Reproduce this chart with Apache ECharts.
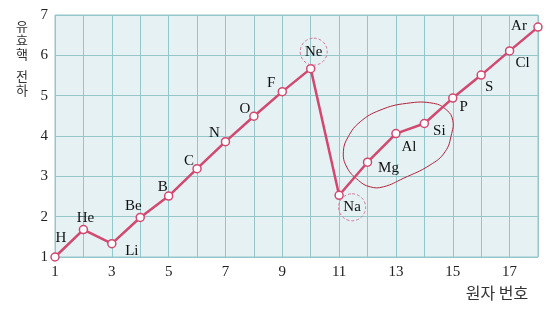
<!DOCTYPE html>
<html><head><meta charset="utf-8">
<script src="https://cdn.jsdelivr.net/npm/echarts@6/dist/echarts.min.js"></script>
<style>html,body{margin:0;padding:0;background:#fff}#c{width:550px;height:309px}</style>
</head><body><div id="c"></div>
<script>
const elements = ['H','He','Li','Be','B','C','N','O','F','Ne','Na','Mg','Al','Si','P','S','Cl','Ar'];
const atomicNumbers = [1,2,3,4,5,6,7,8,9,10,11,12,13,14,15,16,17,18];
const effCharge = [1.0,1.68,1.33,1.98,2.51,3.19,3.86,4.49,5.10,5.67,2.53,3.35,4.06,4.31,4.94,5.51,6.11,6.70];
const yTicks = [1,2,3,4,5,6,7];
const xTickLabels = ['1','3','5','7','9','11','13','15','17'];
const circled = ['Ne','Na'];
const loopX = [11.15,11.32,11.74,12.44,13.38,14.32,14.79,15.00,14.96,14.73,14.20,13.26,12.56,12.09,11.68,11.27];
const loopY = [3.61,3.98,4.35,4.64,4.81,4.81,4.64,4.39,4.06,3.61,3.28,2.95,2.74,2.74,2.90,3.23];
const yTitle = '유효핵 전하';
const xTitle = '원자 번호';

const labelOffsets = {
  H:[6,-19], He:[2,-12], Li:[20,7], Be:[-7,-11], B:[-6,-9], C:[-8,-8], N:[-11,-9],
  O:[-9,-7], F:[-11,-9], Ne:[3,-17], Na:[13,12], Mg:[21,6], Al:[13,13], Si:[15,8],
  P:[11,9], S:[8,12], Cl:[13,12], Ar:[-19,-1]
};

const serif = '"Liberation Serif","DejaVu Serif",serif';
const data = atomicNumbers.map((n,i)=>{
  const el = elements[i];
  const lab = {show:true, position:'inside', offset:labelOffsets[el], formatter:el,
    fontFamily:serif, fontSize:15, color:'#111', align:'center', verticalAlign:'middle'};
  if (circled.includes(el)) {
    Object.assign(lab, {width:27, height:27, lineHeight:27, borderRadius:14,
      borderWidth:1, borderType:[3,2], borderColor:'#d4789a'});
  }
  return {value:[n, effCharge[i]], label:lab};
});
const loopPts = loopX.map((x,i)=>[x, loopY[i]]);
const yTitleRich = yTitle.split('').map(ch => ch === ' ' ? '{s| }' : '{a|' + ch + '}').join('\n');

const chart = echarts.init(document.getElementById('c'));
chart.setOption({
  animation:false,
  grid:{left:55, right:12, top:15, bottom:52, show:true, backgroundColor:'#e5f1f3', borderColor:'#95c6ca', borderWidth:1},
  xAxis:{type:'value', min:1, max:18, interval:1,
    axisLine:{show:false}, axisTick:{show:false},
    splitLine:{show:true, lineStyle:{color:'#95c6ca', width:1}},
    axisLabel:{margin:8, fontFamily:serif, fontSize:15, color:'#222',
      formatter:v=> xTickLabels.includes(String(v)) ? String(v) : ''}},
  yAxis:{type:'value', min:1, max:7, interval:1,
    axisLine:{show:false}, axisTick:{show:false},
    splitLine:{show:true, lineStyle:{color:'#95c6ca', width:1}},
    axisLabel:{margin:7, fontFamily:serif, fontSize:15, color:'#222',
      formatter:v=> yTicks.includes(v) ? String(v) : ''}},
  graphic:[
    {type:'text', x:22, y:19,
      style:{text:yTitleRich, fill:'#333', align:'center', verticalAlign:'top',
        rich:{a:{fontFamily:'"Noto Sans CJK KR"', fontSize:13, lineHeight:14, fill:'#333', align:'center'},
              s:{fontSize:4, lineHeight:8}}}},
    {type:'text', x:497, y:293,
      style:{text:xTitle, fontFamily:'"Noto Sans CJK KR"', fontSize:16, fill:'#333', align:'center', verticalAlign:'middle'}}
  ],
  series:[
    {type:'custom', silent:true, z:1, data:[[0]],
      renderItem:(params, api)=>({type:'polygon',
        shape:{points:loopPts.map(p=>api.coord(p)), smooth:0.45},
        style:{fill:'none', stroke:'#b3263f', lineWidth:1}})},
    {type:'line', z:3, data:data, symbol:'circle', symbolSize:8,
      lineStyle:{color:'#d2486f', width:2.5},
      itemStyle:{color:'#ffffff', borderColor:'#d2486f', borderWidth:1.5}}
  ]
});
</script></body></html>
